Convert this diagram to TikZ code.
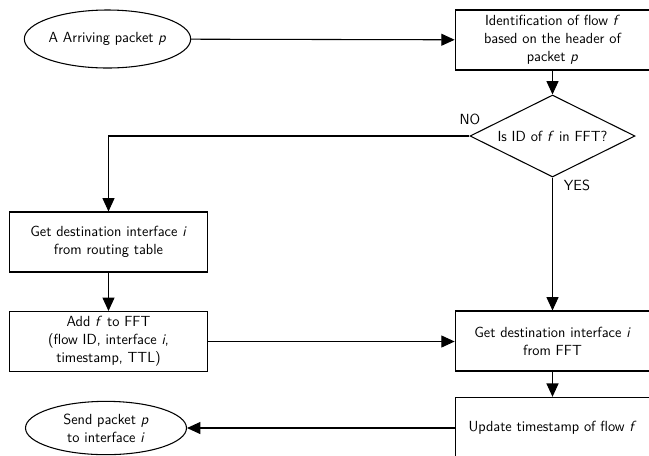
\documentclass[tikz,border=0pt]{standalone}
\usetikzlibrary{shapes.geometric,arrows.meta}
\begin{document}
\begin{tikzpicture}[x=0.75pt,y=-0.75pt,
  every node/.style={font=\sffamily\fontsize{11}{13.5}\selectfont, align=center},
  procbox/.style={draw, rectangle, line width=0.8pt, inner sep=0pt},
  endpoint/.style={draw, ellipse, line width=0.8pt, inner sep=0pt},
  decision/.style={draw, diamond, aspect=2, line width=0.8pt, inner sep=0pt,
    minimum width=123.75pt, minimum height=61.5pt},
  flow/.style={line width=0.8pt, -{Triangle[length=10pt,width=9pt]}},
  plain/.style={line width=0.8pt}]
  \clip (0,0) rectangle (649,455);
  \fill[white] (0,0) rectangle (649,455);

  % start and end of the procedure
  \node[endpoint, minimum width=120.75pt, minimum height=43.5pt] (start) at (107.5,39) {A Arriving packet \textsl{p}};
  \node[endpoint, minimum width=120.75pt, minimum height=40pt] (send) at (106,428) {Send packet \textsl{p}\\to interface \textsl{i}};

  % right-hand column
  \node[procbox, minimum width=146pt, minimum height=45pt] (ident) at (552.5,40) {Identification of flow \textsl{f}\\based on the header of\\packet \textsl{p}};
  \node[decision] (check) at (552.5,136) {Is ID of \textsl{f} in FFT?};
  \node[procbox, minimum width=146pt, minimum height=45pt] (getfft) at (552.5,341) {Get destination interface \textsl{i}\\from FFT};
  \node[procbox, minimum width=146pt, minimum height=46pt] (update) at (552.5,428) {Update timestamp of flow \textsl{f}};

  % left-hand column
  \node[procbox, minimum width=148.5pt, minimum height=45pt] (getrt) at (108.5,242) {Get destination interface \textsl{i}\\from routing table};
  \node[procbox, minimum width=148.5pt, minimum height=45pt] (addfft) at (108.5,341.5) {Add \textsl{f} to FFT\\(flow ID, interface \textsl{i},\\timestamp, TTL)};

  % branch labels
  \node (no) at (470,119) {NO};
  \node (yes) at (577,185) {YES};

  % connectors
  \draw[flow] (start) -- (ident);
  \draw[flow] (ident) -- (check);
  \draw[flow] (check.west) -| (getrt.north);
  \draw[flow] (getrt) -- (addfft);
  \draw[flow] (check.south) -- (getfft.north);
  \draw[flow] (addfft.east) -- (addfft.east -| getfft.west);
  \draw[flow] (getfft) -- (update);
  \draw[flow] (update.west) -- (send.east);
\end{tikzpicture}
\end{document}
